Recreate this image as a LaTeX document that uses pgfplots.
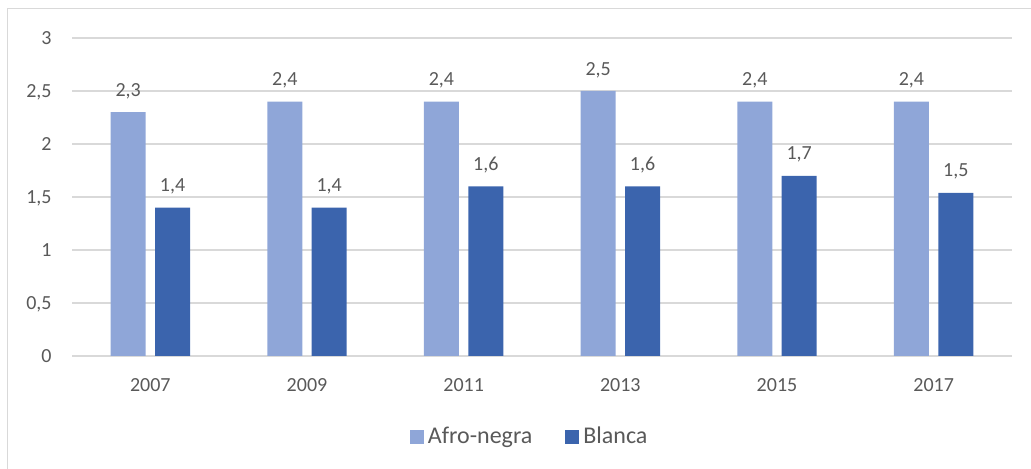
\documentclass[border=0pt]{standalone}
\usepackage{pgfplots}
\pgfplotsset{compat=1.18}
\usepackage{fontspec}
\setmainfont{Carlito}
\definecolor{afro}{HTML}{8FA6D8}
\definecolor{blanca}{HTML}{3B64AD}
\definecolor{gridc}{HTML}{D9D9D9}
\definecolor{txt}{HTML}{595959}
\begin{document}
\begin{tikzpicture}
\useasboundingbox (0,0) rectangle (515.5pt,234.5pt);
\draw[gridc, line width=0.6pt] (3.65pt,-20pt) -- (3.65pt,230.35pt) -- (540pt,230.35pt);
\begin{axis}[
  at={(36pt,56.5pt)}, anchor=south west,
  scale only axis, width=470pt, height=159pt,
  xmin=-0.5, xmax=5.5, ymin=0, ymax=3,
  xtick={0,1,2,3,4,5},
  xticklabels={2007,2009,2011,2013,2015,2017},
  ytick={0,0.5,1,1.5,2,2.5,3},
  ymajorgrids, major grid style={gridc, line width=0.6pt},
  axis line style={draw=none},
  major tick length=0pt,
  tick label style={font=\fontsize{10}{12}\selectfont, text=txt},
  /pgf/number format/assume math mode=true,
  /pgf/number format/use comma,
  yticklabel style={anchor=base east, inner sep=0pt, xshift=-10pt, yshift=-3.15pt},
  xticklabel style={anchor=base, inner sep=0pt, yshift=-17.85pt},
  ybar, bar width=17.5pt,
  nodes near coords,
  nodes near coords style={font=\fontsize{10}{12}\selectfont, text=txt, anchor=base, inner sep=0pt, yshift=7.9pt,
    /pgf/number format/fixed, /pgf/number format/precision=1, /pgf/number format/fixed zerofill, /pgf/number format/use comma},
  legend style={at={(0.488,-0.255)}, anchor=center, draw=none, fill=none,
    legend columns=2, font=\fontsize{12}{14}\selectfont, text=txt,
    /tikz/every even column/.append style={column sep=14.5pt}},
  legend image code/.code={\fill[#1] (0pt,-3.5pt) rectangle (7pt,3.5pt);},
]
\addplot[draw=none, fill=afro, bar shift=-11.1pt] coordinates {(0,2.3) (1,2.4) (2,2.4) (3,2.5) (4,2.4) (5,2.4)};
\addlegendentry{Afro-negra}
\addplot[draw=none, fill=blanca, bar shift=11.1pt] coordinates {(0,1.4) (1,1.4) (2,1.6) (3,1.6) (4,1.7) (5,1.54)};
\addlegendentry{Blanca}
\end{axis}
\end{tikzpicture}
\end{document}
